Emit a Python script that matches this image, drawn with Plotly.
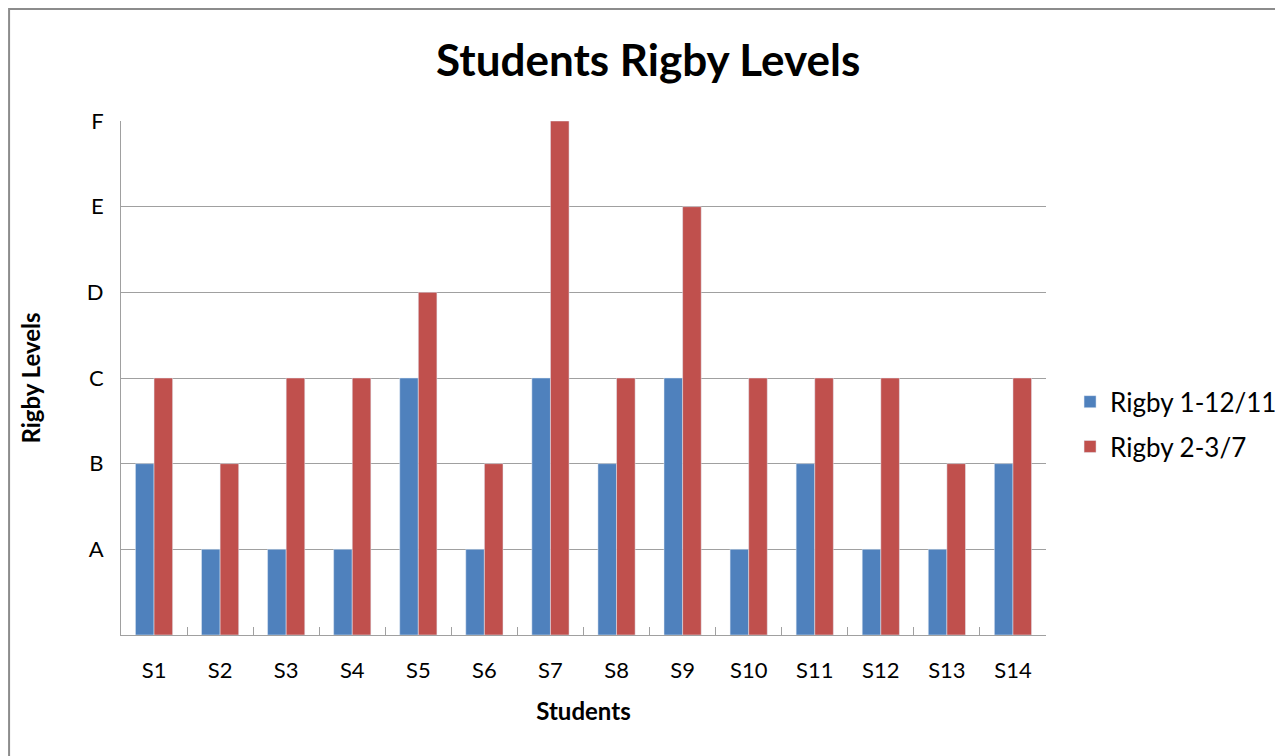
import plotly.graph_objects as go

students = ["S1", "S2", "S3", "S4", "S5", "S6", "S7", "S8", "S9", "S10", "S11", "S12", "S13", "S14"]
# Levels: A=1, B=2, C=3, D=4, E=5, F=6
rigby_1_12_11 = [2, 1, 1, 1, 3, 1, 3, 2, 3, 1, 2, 1, 1, 2]
rigby_2_3_7 = [3, 2, 3, 3, 4, 2, 6, 3, 5, 3, 3, 3, 2, 3]
level_vals = [1, 2, 3, 4, 5, 6]
level_text = ["A", "B", "C", "D", "E", "F"]

FONT = "Lato, Open Sans, sans-serif"

fig = go.Figure()
fig.add_trace(go.Bar(x=students, y=rigby_1_12_11, name="Rigby 1-12/11", marker_color="#4F81BD",
                     legendgroup="g1"))
fig.add_trace(go.Bar(x=students, y=rigby_2_3_7, name="Rigby 2-3/7", marker_color="#C0504D",
                     legendgroup="g2"))

fig.update_layout(
    width=1283, height=756,
    margin=dict(l=113, r=245, t=113, b=129, autoexpand=False),
    paper_bgcolor="white", plot_bgcolor="white",
    barmode="group", bargap=0.437, bargroupgap=0,
    font=dict(family=FONT, size=22, color="black"),
    title=dict(text="<b>Students Rigby Levels</b>", x=0.499, xanchor="center",
               y=0.931, yanchor="middle", font=dict(size=44, family=FONT)),
    legend=dict(x=1.026, y=0.41, xanchor="left", yanchor="middle",
                font=dict(size=26), itemwidth=30, traceorder="grouped", tracegroupgap=8),
    xaxis=dict(
        title=dict(text="<b>Students</b>", font=dict(size=24), standoff=20),
        showline=True, linecolor="#a0a0a0", linewidth=1,
        ticks="inside", tickson="boundaries", ticklen=8, tickcolor="#a0a0a0",
        ticklabelstandoff=16, showgrid=False,
    ),
    yaxis=dict(
        title=dict(text="<b>Rigby Levels</b>", font=dict(size=24), standoff=39),
        range=[0, 6], tickvals=level_vals, ticktext=level_text,
        showline=True, linecolor="#a0a0a0", linewidth=1,
        showgrid=True, gridcolor="#a0a0a0", gridwidth=1, zeroline=False,
        ticks="", ticklabelstandoff=12,
    ),
)

fig.add_shape(type="rect", xref="paper", yref="paper",
              x0=-0.121, x1=1.3, y0=-0.3, y1=1.218,
              line=dict(color="#8c8c8c", width=2), fillcolor="rgba(0,0,0,0)", layer="above")

fig.write_html("out.html")
